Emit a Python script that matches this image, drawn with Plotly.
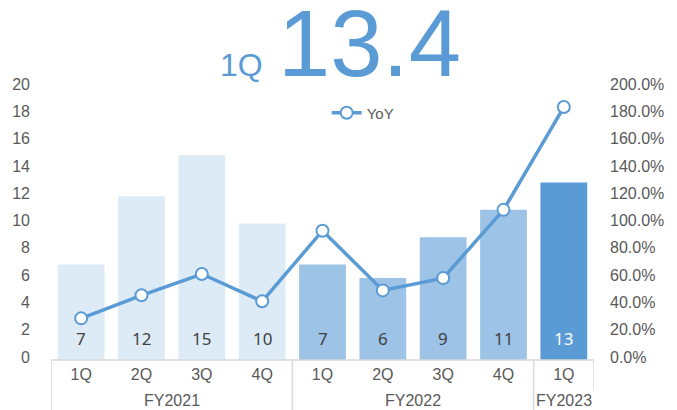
import plotly.graph_objects as go

quarters = ["1Q", "2Q", "3Q", "4Q", "1Q", "2Q", "3Q", "4Q", "1Q"]
fiscal_years = ["FY2021", "FY2022", "FY2023"]
year_of_bar = [0, 0, 0, 0, 1, 1, 1, 1, 2]
values = [7, 12, 15, 10, 7, 6, 9, 11, 13]
yoy = [0.305, 0.474, 0.63, 0.43, 0.947, 0.51, 0.60, 1.10, 1.853]
headline_label = "1Q"
headline_value = "13.4"

bar_colors_by_year = ["#DDEBF7", "#9DC3E6", "#5B9BD5"]
label_colors_by_year = ["#404040", "#404040", "#FFFFFF"]
BLUE = "#5B9BD5"
GREY = "#595959"
BORDER = "#D9D9D9"
FONT = "Liberation Sans, Arial, sans-serif"

x = list(range(len(values)))

fig = go.Figure()
fig.add_trace(go.Bar(
    x=x, y=values,
    marker=dict(color=[bar_colors_by_year[g] for g in year_of_bar], line=dict(width=0)),
    showlegend=False, hoverinfo="skip",
))
fig.add_trace(go.Scatter(
    x=x, y=yoy, yaxis="y2", name="YoY", mode="lines+markers",
    line=dict(color=BLUE, width=3.5),
    marker=dict(size=12, color="white", line=dict(color=BLUE, width=2)),
))

annotations = []
for i, v in enumerate(values):
    annotations.append(dict(
        x=i, y=0, xref="x", yref="y", text=str(v), showarrow=False,
        yanchor="bottom", yshift=8,
        font=dict(family="Noto Sans, sans-serif", size=17,
                  color=label_colors_by_year[year_of_bar[i]]),
    ))

# headline
annotations.append(dict(
    x=0.533, y=0.958, xref="paper", yref="paper", xanchor="center", yanchor="bottom",
    text=f"<span style='font-size:32px'>{headline_label}\u00a0\u2009</span>{headline_value}",
    showarrow=False, font=dict(family=FONT, size=94, color=BLUE),
))

shapes = [dict(type="line", xref="paper", yref="paper", x0=0, x1=1, y0=0, y1=0,
               line=dict(color=BORDER, width=1.5))]
bounds = [-0.5]
for i in range(1, len(year_of_bar)):
    if year_of_bar[i] != year_of_bar[i - 1]:
        bounds.append(i - 0.5)
end = len(values) - 0.5
for b in bounds:
    shapes.append(dict(type="line", xref="x", yref="paper", x0=b, x1=b, y0=0, y1=-0.25,
                       line=dict(color=BORDER, width=1.5)))
shapes.append(dict(type="line", xref="x", yref="paper", x0=end, x1=end, y0=0, y1=-0.11,
                   line=dict(color=BORDER, width=1.5)))

for g, fy in enumerate(fiscal_years):
    idx = [i for i, yy in enumerate(year_of_bar) if yy == g]
    annotations.append(dict(
        x=(min(idx) + max(idx)) / 2, y=0,
        xref="x", yref="paper", text=fy, showarrow=False,
        yanchor="middle", yshift=-40,
        font=dict(family=FONT, size=16, color=GREY),
    ))

fig.update_layout(
    width=677, height=410,
    margin=dict(l=51, r=83, t=87, b=50),
    plot_bgcolor="white", paper_bgcolor="white",
    bargap=0.225,
    font=dict(family=FONT, size=16, color=GREY),
    xaxis=dict(
        range=[-0.5, len(values) - 0.5], tickmode="array", tickvals=x, ticktext=quarters,
        showgrid=False, zeroline=False, showline=False, ticks="",
        tickfont=dict(size=16, color=GREY), ticklabelstandoff=3,
    ),
    yaxis=dict(
        range=[0, 20], dtick=2, showgrid=False, zeroline=False, showline=False,
        tickfont=dict(size=16, color=GREY), ticklabelstandoff=20, ticklabelshift=-3,
    ),
    yaxis2=dict(
        range=[0, 2.0], dtick=0.2, tickformat=".1%", overlaying="y", side="right",
        showgrid=False, zeroline=False, showline=False,
        tickfont=dict(size=16, color=GREY), ticklabelstandoff=15, ticklabelshift=-3,
    ),
    legend=dict(
        x=0.574, y=0.905, xanchor="center", yanchor="middle", orientation="h",
        font=dict(size=15, color=GREY), bgcolor="rgba(0,0,0,0)",
    ),
    annotations=annotations,
    shapes=shapes,
)

fig.write_html("out.html")
